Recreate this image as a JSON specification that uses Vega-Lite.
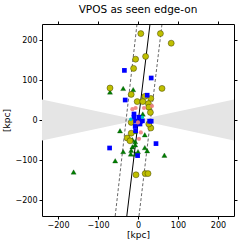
{
  "$schema": "https://vega.github.io/schema/vega-lite/v6.json",
  "autosize": {"type": "none"},
  "width": 192,
  "height": 192,
  "padding": {"left": 42, "top": 24, "right": 13, "bottom": 31},
  "background": "white",
  "title": {"text": "VPOS as seen edge-on", "font": "DejaVu Sans", "fontSize": 10.5, "fontWeight": "normal", "color": "black", "offset": 5},
  "config": {
    "view": {"stroke": "black", "strokeWidth": 1},
    "axis": {"labelFont": "DejaVu Sans", "labelFontSize": 8, "labelColor": "black", "titleFont": "DejaVu Sans", "titleFontSize": 9, "titleFontWeight": "normal", "titleColor": "black", "domain": false, "grid": false, "tickColor": "black", "tickSize": 3, "labelPadding": 2}
  },
  "datasets": {
    "wedge": [
      {"x": -240, "lo": -51, "hi": 51},
      {"x": 0, "lo": 0, "hi": 0},
      {"x": 240, "lo": -51, "hi": 51}
    ],
    "lines": [
      {"line": "solid", "x": 30, "y": 240},
      {"line": "solid", "x": -28, "y": -240},
      {"line": "left", "x": -2.5, "y": 240},
      {"line": "left", "x": -57, "y": -240},
      {"line": "right", "x": 60, "y": 240},
      {"line": "right", "x": 2.5, "y": -240}
    ],
    "pts": [
      {"kind": "tri", "x": -70, "y": 70},
      {"kind": "tri", "x": -37, "y": 79},
      {"kind": "tri", "x": -12, "y": 76},
      {"kind": "tri", "x": -45, "y": -27},
      {"kind": "tri", "x": -161, "y": -130},
      {"kind": "tri", "x": -57, "y": -102},
      {"kind": "tri", "x": -37, "y": -79},
      {"kind": "tri", "x": 66, "y": -88},
      {"kind": "tri", "x": -14, "y": -67},
      {"kind": "tri", "x": -7, "y": -62},
      {"kind": "tri", "x": -17, "y": -76},
      {"kind": "tri", "x": 0, "y": -79},
      {"kind": "tri", "x": 17, "y": -69},
      {"kind": "tri", "x": -24, "y": -44},
      {"kind": "tri", "x": -8, "y": -29},
      {"kind": "tri", "x": -7, "y": -54},
      {"kind": "tri", "x": -18, "y": -85},
      {"kind": "tri", "x": -6, "y": -85},
      {"kind": "tri", "x": 17, "y": -37},
      {"kind": "tri", "x": 23, "y": -77},
      {"kind": "tri", "x": -14, "y": -49},
      {"kind": "tri", "x": 31, "y": -12},
      {"kind": "tri", "x": 12, "y": 15},
      {"kind": "sq", "x": -34, "y": 124},
      {"kind": "sq", "x": 33, "y": 105},
      {"kind": "sq", "x": -32, "y": 50},
      {"kind": "sq", "x": -71, "y": -70},
      {"kind": "sq", "x": 45, "y": -59},
      {"kind": "sq", "x": -1, "y": -89},
      {"kind": "sq", "x": 23, "y": 62},
      {"kind": "yc", "x": 7, "y": 216},
      {"kind": "yc", "x": 56, "y": 216},
      {"kind": "yc", "x": 83, "y": 192},
      {"kind": "yc", "x": 19, "y": 159},
      {"kind": "yc", "x": -6, "y": 152},
      {"kind": "yc", "x": -11, "y": 129},
      {"kind": "yc", "x": -70, "y": 80},
      {"kind": "yc", "x": 60, "y": 79},
      {"kind": "yc", "x": -17, "y": 64},
      {"kind": "yc", "x": 17, "y": 59},
      {"kind": "yc", "x": 32, "y": 54},
      {"kind": "yc", "x": -2, "y": 46},
      {"kind": "yc", "x": 12, "y": 46},
      {"kind": "yc", "x": 26, "y": 41},
      {"kind": "yc", "x": 27, "y": 32},
      {"kind": "yc", "x": 31, "y": 19},
      {"kind": "yc", "x": -17, "y": -6},
      {"kind": "yc", "x": 32, "y": -20},
      {"kind": "yc", "x": 27, "y": -10},
      {"kind": "yc", "x": -17, "y": -33},
      {"kind": "yc", "x": -27, "y": -45},
      {"kind": "yc", "x": -20, "y": -52},
      {"kind": "yc", "x": -5, "y": -137},
      {"kind": "yc", "x": 18, "y": -134},
      {"kind": "yc", "x": 25, "y": -134},
      {"kind": "sq", "x": -10, "y": 7},
      {"kind": "sq", "x": -6, "y": -3},
      {"kind": "sq", "x": 2.5, "y": 7},
      {"kind": "sq", "x": 7, "y": -3},
      {"kind": "sq", "x": 29, "y": -3},
      {"kind": "sq", "x": 11, "y": -2},
      {"kind": "sq", "x": 5, "y": -10},
      {"kind": "sq", "x": -6, "y": -27},
      {"kind": "sq", "x": -7, "y": -16},
      {"kind": "sq", "x": 33, "y": -3},
      {"kind": "sq", "x": -10, "y": 15},
      {"kind": "sal", "x": -14, "y": 27},
      {"kind": "sal", "x": -6, "y": 30},
      {"kind": "sal", "x": 15, "y": 30},
      {"kind": "sal", "x": 35, "y": 35},
      {"kind": "sal", "x": 0, "y": -6},
      {"kind": "sal", "x": 2.5, "y": -47},
      {"kind": "sal", "x": 7, "y": -31},
      {"kind": "cy", "x": 11, "y": 7},
      {"kind": "cy", "x": -18, "y": 2}
    ]
  },
  "resolve": {"axis": {"x": "independent", "y": "independent"}},
  "layer": [
    {
      "data": {"name": "wedge"},
      "mark": {"type": "area", "color": "#e5e5e5", "opacity": 1},
      "encoding": {
        "x": {"field": "x", "type": "quantitative", "scale": {"domain": [-240, 240], "nice": false, "zero": false}, "axis": {"orient": "bottom", "values": [-200, -100, 0, 100, 200], "title": "[kpc]", "titlePadding": 1}},
        "y": {"field": "lo", "type": "quantitative", "scale": {"domain": [-240, 240], "nice": false, "zero": false}, "axis": {"orient": "left", "values": [-200, -100, 0, 100, 200], "title": "[kpc]", "titlePadding": 4}},
        "y2": {"field": "hi"}
      }
    },
    {
      "data": {"name": "lines"},
      "transform": [{"filter": "datum.line == 'solid'"}],
      "mark": {"type": "line", "color": "black", "strokeWidth": 1, "clip": true},
      "encoding": {
        "x": {"field": "x", "type": "quantitative", "axis": {"orient": "top", "values": [-200, -100, 0, 100, 200], "labels": false, "title": null}},
        "y": {"field": "y", "type": "quantitative", "axis": {"orient": "right", "values": [-200, -100, 0, 100, 200], "labels": false, "title": null}}
      }
    },
    {
      "data": {"name": "lines"},
      "transform": [{"filter": "datum.line != 'solid'"}],
      "mark": {"type": "line", "color": "black", "strokeWidth": 0.6, "strokeDash": [3, 2], "clip": true},
      "encoding": {
        "x": {"field": "x", "type": "quantitative", "axis": null},
        "y": {"field": "y", "type": "quantitative", "axis": null},
        "detail": {"field": "line"}
      }
    },
    {
      "data": {"name": "pts"},
      "transform": [{"filter": "datum.kind == 'tri'"}],
      "mark": {"type": "point", "shape": "triangle-up", "filled": true, "color": "#007f00", "stroke": "#003f00", "strokeWidth": 0.3, "size": 26, "opacity": 1},
      "encoding": {
        "x": {"field": "x", "type": "quantitative", "axis": null},
        "y": {"field": "y", "type": "quantitative", "axis": null}
      }
    },
    {
      "data": {"name": "pts"},
      "transform": [{"filter": "datum.kind == 'yc'"}],
      "mark": {"type": "point", "shape": "circle", "filled": true, "color": "#bfbf00", "stroke": "#3f3f00", "strokeWidth": 0.5, "size": 36, "opacity": 1},
      "encoding": {
        "x": {"field": "x", "type": "quantitative", "axis": null},
        "y": {"field": "y", "type": "quantitative", "axis": null}
      }
    },
    {
      "data": {"name": "pts"},
      "transform": [{"filter": "datum.kind == 'sq'"}],
      "mark": {"type": "point", "shape": "square", "filled": true, "color": "#0000ff", "size": 22, "opacity": 1},
      "encoding": {
        "x": {"field": "x", "type": "quantitative", "axis": null},
        "y": {"field": "y", "type": "quantitative", "axis": null}
      }
    },
    {
      "data": {"name": "pts"},
      "transform": [{"filter": "datum.kind == 'sal'"}],
      "mark": {"type": "point", "shape": "circle", "filled": true, "color": "#f08080", "size": 18, "opacity": 0.9},
      "encoding": {
        "x": {"field": "x", "type": "quantitative", "axis": null},
        "y": {"field": "y", "type": "quantitative", "axis": null}
      }
    },
    {
      "data": {"name": "pts"},
      "transform": [{"filter": "datum.kind == 'cy'"}],
      "mark": {"type": "point", "shape": "circle", "filled": true, "color": "#00bfbf", "size": 12, "opacity": 1},
      "encoding": {
        "x": {"field": "x", "type": "quantitative", "axis": null},
        "y": {"field": "y", "type": "quantitative", "axis": null}
      }
    }
  ]
}
